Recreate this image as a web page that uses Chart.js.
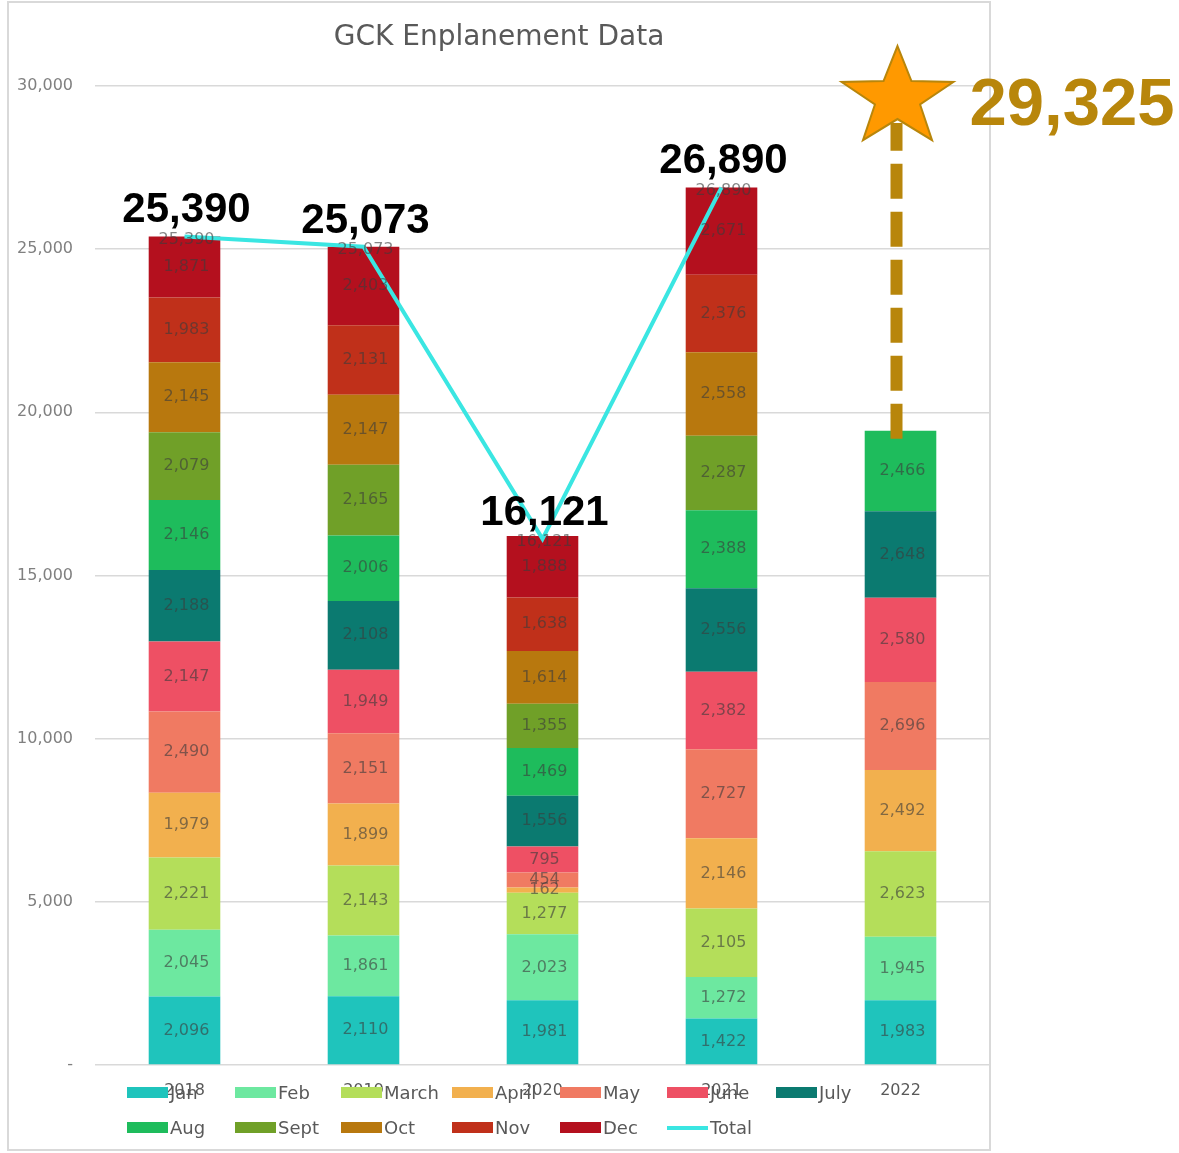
<!DOCTYPE html>
<html>
<head>
<meta charset="utf-8">
<title>GCK Enplanement Data</title>
<script src="https://cdn.jsdelivr.net/npm/chart.js@4.4.0/dist/chart.umd.min.js"></script>
<style>
  html, body { margin: 0; padding: 0; background: #fff; }
  #wrap { position: relative; width: 1179px; height: 1153px; }
</style>
</head>
<body>
<div id="wrap"><canvas id="chart" width="1179" height="1153"></canvas></div>
<script>
// Datos
const years = ["2018", "2019", "2020", "2021", "2022"];
const jan   = [2096, 2110, 1981, 1422, 1983];
const feb   = [2045, 1861, 2023, 1272, 1945];
const march = [2221, 2143, 1277, 2105, 2623];
const april = [1979, 1899, 162, 2146, 2492];
const may   = [2490, 2151, 454, 2727, 2696];
const june  = [2147, 1949, 795, 2382, 2580];
const july  = [2188, 2108, 1556, 2556, 2648];
const aug   = [2146, 2006, 1469, 2388, 2466];
const sept  = [2079, 2165, 1355, 2287, null];
const oct   = [2145, 2147, 1614, 2558, null];
const nov   = [1983, 2131, 1638, 2376, null];
const dec   = [1871, 2403, 1888, 2671, null];
const totals = [25390, 25073, 16121, 26890, null];
const target2022 = 29325;
const yTicks = [0, 5000, 10000, 15000, 20000, 25000, 30000];

const monthNames = ["Jan", "Feb", "March", "April", "May", "June", "July", "Aug", "Sept", "Oct", "Nov", "Dec"];
const monthData = [jan, feb, march, april, may, june, july, aug, sept, oct, nov, dec];
const monthColors = ["#1fc4bc", "#6de8a0", "#b4de5a", "#f2b04e", "#f07a62", "#ee5064",
                     "#0b7a70", "#1ebc5c", "#70a028", "#b8780e", "#c0301a", "#b4101e"];
const totalColor = "#3ae6e2";
const gold = "#b8860b";
const baseFont = "'DejaVu Sans', sans-serif";
const boldFont = "'Liberation Sans', Arial, sans-serif";

const fmt = v => v.toLocaleString("en-US");

const datasets = monthNames.map((name, i) => ({
  type: "bar",
  label: name,
  data: monthData[i],
  backgroundColor: monthColors[i],
  borderWidth: 0,
  stack: "months",
  order: 1,
  categoryPercentage: 1,
  barPercentage: 0.4,
}));
datasets.push({
  type: "line",
  label: "Total",
  data: totals,
  borderColor: totalColor,
  backgroundColor: totalColor,
  borderWidth: 4,
  pointRadius: 0,
  tension: 0,
  stack: "total",
  order: 0,
});

// Marco, titulo, etiquetas, leyenda y anotacion
const extras = {
  id: "extras",
  beforeDraw(chart) {
    const ctx = chart.ctx;
    ctx.save();
    ctx.fillStyle = "#fff";
    ctx.fillRect(0, 0, chart.width, chart.height);
    ctx.strokeStyle = "#d9d9d9";
    ctx.lineWidth = 2;
    ctx.strokeRect(8, 2, chart.chartArea.right - 8, chart.height - 5);
    ctx.fillStyle = "#595959";
    ctx.font = "28px " + baseFont;
    ctx.textAlign = "center";
    ctx.textBaseline = "middle";
    ctx.fillText("GCK Enplanement Data", (8 + chart.chartArea.right) / 2, 38);
    ctx.restore();
  },
  afterDatasetsDraw(chart) {
    const ctx = chart.ctx;
    const x = chart.scales.x, y = chart.scales.y;
    ctx.save();
    ctx.textAlign = "center";
    ctx.textBaseline = "middle";
    ctx.font = "16px " + baseFont;
    ctx.fillStyle = "rgba(60,60,60,0.62)";
    monthNames.forEach((_, i) => {
      chart.getDatasetMeta(i).data.forEach((bar, j) => {
        const v = monthData[i][j];
        if (v == null) return;
        ctx.fillText(fmt(v), bar.x + 2, (bar.y + bar.base) / 2);
      });
    });
    const lineMeta = chart.getDatasetMeta(monthNames.length);
    lineMeta.data.forEach((pt, j) => {
      if (totals[j] == null) return;
      ctx.font = "16px " + baseFont;
      ctx.fillStyle = "rgba(60,60,60,0.62)";
      ctx.fillText(fmt(totals[j]), pt.x + 2, pt.y + 3);
    });
    lineMeta.data.forEach((pt, j) => {
      if (totals[j] == null) return;
      ctx.font = "bold 42px " + boldFont;
      ctx.fillStyle = "#000";
      ctx.textBaseline = "alphabetic";
      ctx.fillText(fmt(totals[j]), pt.x + 2, pt.y - 14);
      ctx.textBaseline = "middle";
    });

    // Proyeccion 2022
    const last = years.length - 1;
    const sum2022 = monthData.reduce((s, arr) => s + (arr[last] || 0), 0);
    const cx = x.getPixelForValue(last) - 3;
    const topBar = y.getPixelForValue(sum2022);
    const ty = y.getPixelForValue(target2022);
    const sy = ty - 10;
    ctx.strokeStyle = gold;
    ctx.lineWidth = 12;
    ctx.setLineDash([35, 13]);
    ctx.beginPath();
    ctx.moveTo(cx - 1, topBar + 8);
    ctx.lineTo(cx - 1, sy + 25);
    ctx.stroke();
    ctx.setLineDash([]);
    const R = 52, r = 21;
    ctx.beginPath();
    for (let k = 0; k < 10; k++) {
      const a = -Math.PI / 2 + k * Math.PI / 5;
      const rad = k % 2 === 0 ? R : r;
      const px = cx + Math.cos(a) * rad * 1.13;
      const py = sy + Math.sin(a) * rad;
      if (k === 0) ctx.moveTo(px, py); else ctx.lineTo(px, py);
    }
    ctx.closePath();
    ctx.fillStyle = "#ff9900";
    ctx.fill();
    ctx.lineWidth = 2;
    ctx.strokeStyle = gold;
    ctx.stroke();
    ctx.fillStyle = gold;
    ctx.font = "bold 67px " + boldFont;
    ctx.textAlign = "left";
    ctx.textBaseline = "alphabetic";
    ctx.fillText(fmt(target2022), cx + 72, ty + 17);
    ctx.restore();
  },
  afterDraw(chart) {
    // leyenda en rejilla, como en el original
    const ctx = chart.ctx;
    const cols = [127, 235, 341, 452, 560, 667, 776];
    const rows = [1093, 1128];
    ctx.save();
    ctx.font = "18px " + baseFont;
    ctx.textBaseline = "middle";
    ctx.textAlign = "left";
    chart.data.datasets.forEach((ds, i) => {
      const lx = cols[i % 7], ly = rows[Math.floor(i / 7)];
      ctx.fillStyle = ds.type === "line" ? ds.borderColor : ds.backgroundColor;
      if (ds.type === "line") ctx.fillRect(lx, ly - 2, 41, 4);
      else ctx.fillRect(lx, ly - 6, 41, 11);
      ctx.fillStyle = "#595959";
      ctx.fillText(ds.label, lx + 43, ly + 1);
    });
    ctx.restore();
  }
};

new Chart(document.getElementById("chart"), {
  data: { labels: years, datasets },
  options: {
    responsive: false,
    animation: false,
    layout: { padding: { left: 0, top: 86, right: 189, bottom: 48 } },
    plugins: {
      legend: { display: false },
      title: { display: false },
      tooltip: { enabled: false },
    },
    scales: {
      x: {
        stacked: true,
        grid: { display: false },
        border: { display: false },
        ticks: { color: "#595959", font: { family: baseFont, size: 16 }, padding: 8 },
        afterFit: s => { s.height = 40; },
      },
      y: {
        stacked: true,
        min: 0,
        max: 30000,
        afterBuildTicks: s => { s.ticks = yTicks.map(v => ({ value: v })); },
        ticks: {
          color: "#808080",
          font: { family: baseFont, size: 16 },
          padding: 22,
          callback: v => (v === 0 ? "-" : fmt(v)),
        },
        grid: { color: "#d9d9d9", lineWidth: 1.5, drawTicks: false },
        border: { display: false },
        afterFit: s => { s.width = 95; },
      },
    },
  },
  plugins: [extras],
});
</script>
</body>
</html>
